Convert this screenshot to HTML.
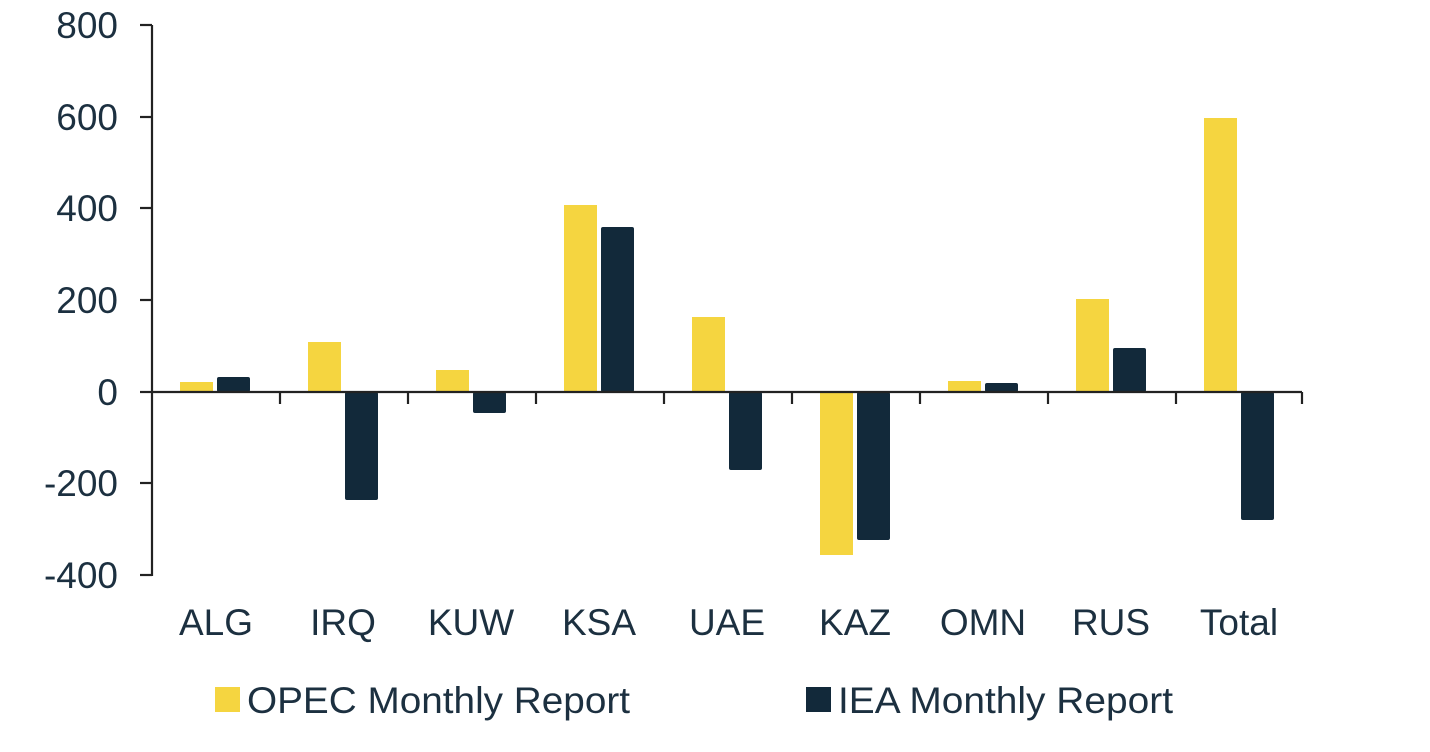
<!DOCTYPE html>
<html><head><meta charset="utf-8"><style>html,body{margin:0;padding:0;background:#fff}svg{display:block}</style></head><body>
<svg width="1430" height="752" viewBox="0 0 1430 752" xmlns="http://www.w3.org/2000/svg" font-family="Liberation Sans, Arial, sans-serif" fill="#1c3040">
<g fill="#f5d540">
<rect x="180" y="382" width="33" height="10"/>
<rect x="308" y="342" width="33" height="50"/>
<rect x="436" y="370" width="33" height="22"/>
<rect x="564" y="205" width="33" height="187"/>
<rect x="692" y="317" width="33" height="75"/>
<rect x="820" y="392" width="33" height="163"/>
<rect x="948" y="381" width="33" height="11"/>
<rect x="1076" y="299" width="33" height="93"/>
<rect x="1204" y="118" width="33" height="274"/>
</g>
<g fill="#12293a">
<rect x="217" y="377" width="33" height="15" rx="2"/>
<rect x="345" y="392" width="33" height="108" rx="2"/>
<rect x="473" y="392" width="33" height="21" rx="2"/>
<rect x="601" y="227" width="33" height="165" rx="2"/>
<rect x="729" y="392" width="33" height="78" rx="2"/>
<rect x="857" y="392" width="33" height="148" rx="2"/>
<rect x="985" y="383" width="33" height="9" rx="2"/>
<rect x="1113" y="348" width="33" height="44" rx="2"/>
<rect x="1241" y="392" width="33" height="128" rx="2"/>
</g>
<g stroke="#222" stroke-width="2.2" fill="none">
<line x1="152" y1="25" x2="152" y2="576"/>
<line x1="152" y1="392" x2="1302" y2="392"/>
<line x1="140" y1="25" x2="152" y2="25"/>
<line x1="140" y1="117" x2="152" y2="117"/>
<line x1="140" y1="208" x2="152" y2="208"/>
<line x1="140" y1="300" x2="152" y2="300"/>
<line x1="140" y1="392" x2="152" y2="392"/>
<line x1="140" y1="483" x2="152" y2="483"/>
<line x1="140" y1="575" x2="152" y2="575"/>
<line x1="280" y1="392" x2="280" y2="404"/>
<line x1="408" y1="392" x2="408" y2="404"/>
<line x1="536" y1="392" x2="536" y2="404"/>
<line x1="664" y1="392" x2="664" y2="404"/>
<line x1="792" y1="392" x2="792" y2="404"/>
<line x1="920" y1="392" x2="920" y2="404"/>
<line x1="1048" y1="392" x2="1048" y2="404"/>
<line x1="1176" y1="392" x2="1176" y2="404"/>
<line x1="1302" y1="392" x2="1302" y2="404"/>
</g>
<g font-size="37" text-anchor="end">
<text x="118" y="38">800</text>
<text x="118" y="130">600</text>
<text x="118" y="221">400</text>
<text x="118" y="313">200</text>
<text x="118" y="405">0</text>
<text x="118" y="496">-200</text>
<text x="118" y="588">-400</text>
</g>
<g font-size="37" text-anchor="middle">
<text x="216" y="635">ALG</text>
<text x="343" y="635">IRQ</text>
<text x="471" y="635">KUW</text>
<text x="599" y="635">KSA</text>
<text x="727" y="635">UAE</text>
<text x="855" y="635">KAZ</text>
<text x="983" y="635">OMN</text>
<text x="1111" y="635">RUS</text>
<text x="1239" y="635">Total</text>
</g>
<rect x="215" y="687" width="25" height="25" fill="#f5d540"/>
<text x="247" y="713" font-size="37" textLength="383" lengthAdjust="spacingAndGlyphs">OPEC Monthly Report</text>
<rect x="806" y="687" width="25" height="25" fill="#12293a"/>
<text x="838" y="713" font-size="37" textLength="335" lengthAdjust="spacingAndGlyphs">IEA Monthly Report</text>
</svg>
</body></html>
